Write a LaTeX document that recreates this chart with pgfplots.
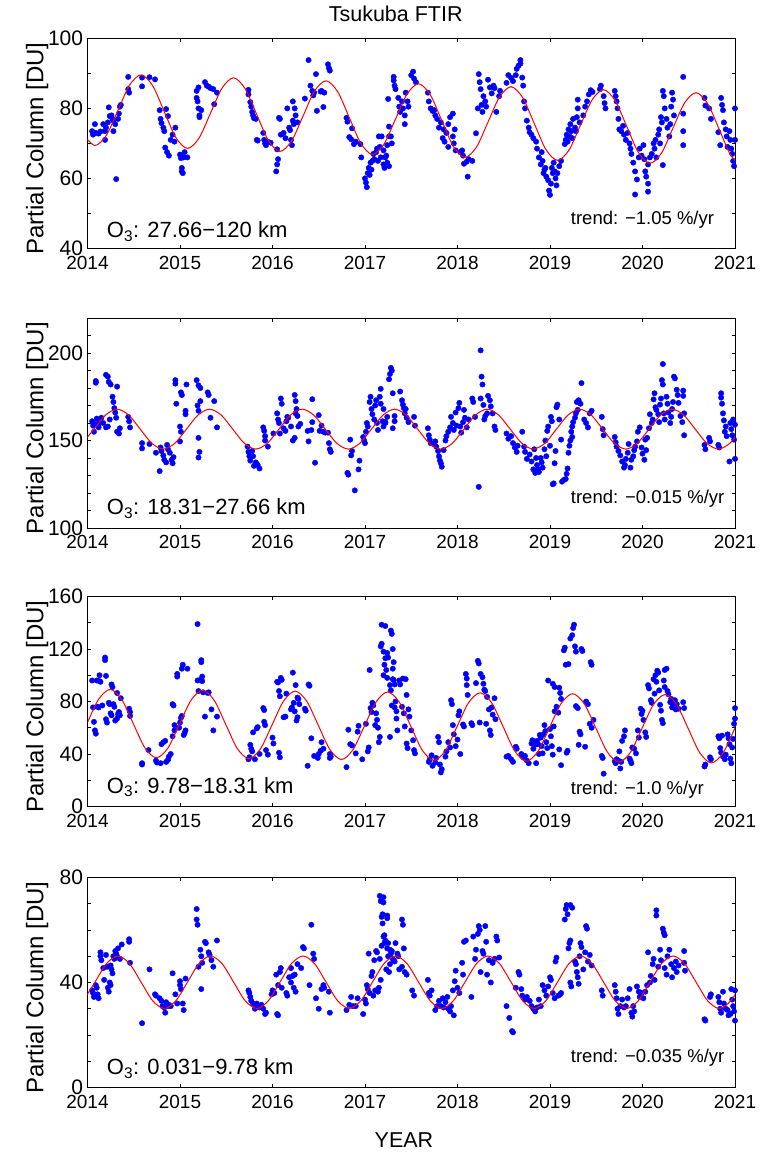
\documentclass[border=0pt]{standalone}
\usepackage{fontspec}
\setmainfont{Liberation Sans}
\usepackage{pgfplots}
\pgfplotsset{compat=1.18}
\tikzset{
 lab/.style={anchor=base west, inner sep=0pt, font=\fontsize{22}{22}\selectfont},
 trd/.style={anchor=base west, inner sep=0pt, font=\fontsize{18.5}{18.5}\selectfont},
}
\pgfplotsset{
 panel/.style={
  scale only axis, width=647.5pt, height=210pt,
  xmin=2014, xmax=2021, xtick={2014,2015,...,2021},
  /pgf/number format/1000 sep={},
  /pgf/number format/assume math mode=true,
  anchor=north west,
  clip mode=individual,
  axis line style={line width=0.9pt},
  every tick/.style={black, line width=0.8pt},
  major tick length=3.5pt, minor tick length=3.5pt,
  xticklabel style={font=\fontsize{19}{19}\selectfont, inner sep=0pt, anchor=north, yshift=-7.5pt},
  yticklabel style={font=\fontsize{21}{21}\selectfont, inner sep=0pt, anchor=east, xshift=-4.2pt},
  every axis y label/.style={at={(rel axis cs:-0.0683,0.476)}, rotate=90, anchor=base, font=\fontsize{24}{24}\selectfont, inner sep=0pt},
  ylabel={Partial Column [DU]},
 },
 dots/.style={only marks, mark=*, mark size=2.7pt, blue, mark options={draw=none, fill=blue}},
 fit/.style={no marks, red, line width=1pt, smooth},
}
\begin{document}
\begin{tikzpicture}
\path[use as bounding box] (0,0) rectangle (767pt,-1152pt);
% ---------------- Panel 1
\begin{axis}[panel, at={(87.5pt,-38.4pt)},
  ymin=40, ymax=100, ytick={40,60,80,100}, minor ytick={50,70,90},
  title={Tsukuba FTIR},
  title style={at={(rel axis cs:0.476,1.053)}, anchor=base, inner sep=0pt, font=\fontsize{21.5}{21.5}\selectfont}]
\addplot[dots] coordinates {
(2014.05,73.5)(2014.06,72.5)(2014.08,75.5)(2014.09,73)(2014.12,72.8)(2014.14,73.4)
(2014.17,75.5)(2014.19,73.5)(2014.2,74.5)(2014.22,76)(2014.19,71)(2014.23,80.3)(2014.24,77.8)(2014.26,78)(2014.27,77)(2014.28,76.5)(2014.28,73.5)(2014.3,75.5)(2014.31,59.8)(2014.33,77)(2014.34,78.5)(2014.35,80.5)(2014.36,81)
(2014.44,89)(2014.44,85.5)(2014.45,84.5)(2014.59,88.8)(2014.59,86.3)(2014.67,88.9)(2014.73,88.3)
(2014.78,79.5)(2014.79,77)(2014.8,75.8)(2014.82,74.5)(2014.83,73.5)(2014.85,79.8)(2014.87,77.8)(2014.84,68.8)(2014.86,67.5)(2014.88,66.5)(2014.9,71)(2014.92,72.5)(2014.95,74.5)(2014.94,70.5)
(2015.0,66.8)(2015.01,65.8)(2015.02,63)(2015.02,62)(2015.03,61.5)(2015.04,66)(2015.05,67.5)(2015.08,66)
(2015.18,85)(2015.18,83)(2015.19,82)(2015.2,86)(2015.2,80)(2015.21,78)(2015.21,77.5)(2015.23,79.5)
(2015.27,87.5)(2015.29,86.5)(2015.31,86.2)(2015.33,85.8)(2015.36,85.5)(2015.37,81.2)(2015.4,84.5)
(2015.74,85.3)(2015.74,84)(2015.76,81.8)(2015.77,80.5)(2015.78,79)(2015.79,78)(2015.8,77.2)(2015.82,77)
(2015.83,71)(2015.84,70.8)(2015.9,73)(2015.91,71)(2015.92,70)(2015.93,69.5)(2015.95,70.5)
(2015.98,70.2)(2016.05,68.3)(2016.06,65.5)(2016.05,64)(2016.04,62)(2016.07,77.3)(2016.08,77)
(2016.09,72.5)(2016.12,73)(2016.14,71.5)(2016.16,80)(2016.18,74.5)(2016.19,73.8)(2016.2,71)(2016.21,69.5)(2016.22,76.5)(2016.23,75.5)
(2016.22,82)(2016.24,80)(2016.25,78)(2016.27,76)(2016.39,93.8)(2016.35,82.8)
(2016.41,86.5)(2016.43,85)(2016.44,83.7)(2016.45,84.5)(2016.47,89.8)(2016.48,79.3)(2016.52,84.8)(2016.53,85)(2016.55,80.4)(2016.56,84.5)
(2016.6,92.6)(2016.61,91.5)(2016.62,90.8)
(2016.8,77.3)(2016.81,76.2)(2016.83,71.8)(2016.85,71.2)(2016.86,74.3)(2016.88,69.8)(2016.9,70.5)
(2016.95,69.8)(2016.96,66)
(2017.0,60)(2017.01,58.8)(2017.02,57.5)(2017.03,61.5)(2017.04,63)(2017.05,61)(2017.06,64.5)(2017.07,62.5)(2017.08,65)(2017.09,67)(2017.1,65.5)(2017.12,67.5)(2017.13,68.5)(2017.14,65)(2017.15,72)(2017.16,69)(2017.17,66)(2017.2,64)(2017.21,63)(2017.22,66)(2017.24,69.5)(2017.26,72)
(2017.18,72)(2017.2,68)(2017.23,66.5)(2017.24,64.5)(2017.26,63.5)(2017.25,82.7)(2017.26,74.8)(2017.28,72)(2017.29,70)
(2017.31,89)(2017.31,88)(2017.32,86.5)(2017.33,85.5)
(2017.36,83)(2017.37,80.5)(2017.38,79)(2017.4,82)(2017.41,80)(2017.43,78)(2017.43,75.5)(2017.44,84.5)(2017.46,82)(2017.47,80.5)
(2017.5,89.5)(2017.52,90.5)(2017.53,88.5)(2017.55,87.5)
(2017.68,84.5)(2017.69,82)(2017.71,80)(2017.73,79.3)(2017.75,79.5)
(2017.76,78)(2017.78,77)(2017.8,74.5)(2017.82,76)
(2017.84,71.5)(2017.85,74)(2017.86,70.5)(2017.88,73)(2017.9,69)(2017.9,75.5)(2017.92,77.5)(2017.95,78.5)(2017.95,72)(2017.96,70)(2017.97,74)(2017.98,68)
(2018.03,67.5)(2018.05,68)(2018.06,66.5)(2018.07,64.2)(2018.1,64.8)(2018.11,60.5)(2018.12,65.5)(2018.16,65)(2018.2,72.9)
(2018.22,80)(2018.23,89.8)(2018.24,87.5)(2018.25,85.5)(2018.26,81)(2018.27,79)(2018.28,83.5)(2018.3,82)(2018.31,80.5)
(2018.33,88.2)(2018.35,86)(2018.37,84.3)(2018.39,86.5)(2018.4,85.8)(2018.42,79)(2018.45,83.5)(2018.46,85)
(2018.53,87.3)(2018.55,89.5)(2018.58,88.7)(2018.6,87.8)(2018.63,89.5)(2018.64,91.3)(2018.66,92.2)(2018.68,93.8)(2018.68,92.8)(2018.7,88.8)(2018.71,86.5)
(2018.72,82)(2018.73,80)(2018.75,76.5)(2018.77,74.5)(2018.78,73.2)(2018.8,72.5)(2018.82,71.5)
(2018.85,70.5)(2018.86,68.5)(2018.88,66)(2018.9,64)(2018.91,67.5)(2018.92,65)(2018.93,61.5)(2018.94,62.5)(2018.95,63)(2018.96,60.5)(2018.98,59.5)(2018.99,56.5)(2019.0,55.3)(2019.01,58.5)(2019.02,63)(2019.03,61.5)(2019.04,64.5)(2019.05,62)(2019.06,60)(2019.07,58)(2019.08,61.5)(2019.1,63.5)(2019.12,65)
(2019.16,69.8)(2019.17,71)(2019.18,72.5)(2019.19,70.5)(2019.2,74)(2019.21,72)(2019.22,75.5)(2019.23,73.5)(2019.24,71.5)(2019.25,77)(2019.27,74.5)(2019.28,73.5)(2019.29,77.5)(2019.3,80)(2019.3,82.5)(2019.32,76)
(2019.36,78)(2019.38,80.5)(2019.4,82)(2019.42,84)(2019.44,85.2)(2019.46,84.7)
(2019.54,85.5)(2019.55,86.5)(2019.58,83.5)(2019.59,81.5)(2019.6,80)
(2019.7,85)(2019.71,83.5)(2019.72,82)(2019.73,80)(2019.74,77)(2019.75,74)(2019.77,73.5)(2019.79,75)(2019.8,72.5)(2019.82,71)(2019.84,73)(2019.86,70)
(2019.87,68.5)(2019.88,67)(2019.9,64.5)(2019.92,62)(2019.94,59.7)(2019.92,55.4)(2019.96,66)(2019.97,68.5)(2019.99,66.5)(2020.01,69.5)(2020.02,65.5)(2020.03,62)(2020.04,60.5)(2020.06,58.5)(2020.06,56.2)
(2020.06,64)(2020.08,66)(2020.1,67)(2020.12,70)(2020.13,68.5)(2020.14,71)(2020.15,66)(2020.17,72.5)(2020.18,74)(2020.19,70)(2020.22,63.8)(2020.2,77.5)(2020.21,76)(2020.22,85)(2020.23,83.5)(2020.24,80)(2020.26,77)(2020.27,74.5)(2020.29,72)(2020.3,75.5)(2020.31,80.5)(2020.32,84.5)(2020.33,82.5)(2020.34,78)
(2020.44,89)(2020.44,78.5)(2020.44,73.5)(2020.44,69.5)
(2020.67,83)(2020.68,80.8)(2020.72,80)(2020.74,77)
(2020.82,73.2)(2020.84,69.5)(2020.85,83)(2020.86,81)(2020.87,79.5)(2020.88,76)(2020.9,74)(2020.91,72)(2020.92,69)(2020.94,73.5)(2020.95,71)(2020.96,68.5)(2020.97,67)(2020.98,65)(2020.99,63.5)(2021.0,80)(2021.0,71)
};
\addplot[fit] coordinates {
(2013.955,72.54)(2014.08,69.41)(2014.205,72.33)(2014.33,79.50)(2014.455,86.67)(2014.58,89.59)(2014.705,86.46)(2014.83,79.08)
(2014.955,71.69)(2015.08,68.56)(2015.205,71.48)(2015.33,78.65)(2015.455,85.83)(2015.58,88.74)(2015.705,85.61)(2015.83,78.23)
(2015.955,70.84)(2016.08,67.71)(2016.205,70.63)(2016.33,77.80)(2016.455,84.98)(2016.58,87.89)(2016.705,84.76)(2016.83,77.38)
(2016.955,69.99)(2017.08,66.86)(2017.205,69.78)(2017.33,76.95)(2017.455,84.13)(2017.58,87.04)(2017.705,83.91)(2017.83,76.53)
(2017.955,69.14)(2018.08,66.01)(2018.205,68.93)(2018.33,76.10)(2018.455,83.28)(2018.58,86.19)(2018.705,83.06)(2018.83,75.68)
(2018.955,68.29)(2019.08,65.16)(2019.205,68.08)(2019.33,75.25)(2019.455,82.43)(2019.58,85.34)(2019.705,82.21)(2019.83,74.83)
(2019.955,67.44)(2020.08,64.31)(2020.205,67.23)(2020.33,74.40)(2020.455,81.58)(2020.58,84.49)(2020.705,81.36)(2020.83,73.98)
(2020.955,66.59)(2021.08,63.46)
};
\node[lab] at (rel axis cs:0.0297,0.052) {O\textsubscript{3}: 27.66−120 km};
\node[trd] at (rel axis cs:0.7463,0.112) {trend: −1.05 \%/yr};
\end{axis}
% ---------------- Panel 2
\begin{axis}[panel, at={(87.5pt,-318pt)},
  ymin=100, ymax=220, ytick={100,150,200}, minor ytick={110,120,130,140,160,170,180,190,210}]
\addplot[dots] coordinates {
(2014.05,161)(2014.06,158.5)(2014.07,155)(2014.08,159.5)(2014.1,162.5)(2014.12,157.5)(2014.13,160)(2014.09,184)(2014.09,183)
(2014.15,163)(2014.17,160)(2014.2,157.5)(2014.22,158)(2014.24,162)
(2014.2,187.5)(2014.22,186.5)(2014.23,183.5)(2014.25,182)
(2014.27,175)(2014.28,172)(2014.29,168.5)(2014.3,166)(2014.31,163)
(2014.32,180.8)(2014.32,155)(2014.34,154)(2014.35,157)
(2014.44,163.5)(2014.45,161)(2014.46,157.5)(2014.59,148.5)(2014.59,145.5)(2014.67,148)(2014.74,143)
(2014.78,132.5)(2014.79,146)(2014.8,144)(2014.82,141.5)(2014.83,139)(2014.85,137.5)(2014.86,147.5)(2014.87,145)(2014.89,143)(2014.91,139)(2014.92,137)(2014.93,140.5)
(2014.95,184.5)(2014.95,182.5)(2014.96,171)(2015.0,158)(2015.01,155)(2015.0,149.5)(2015.01,177.5)(2015.02,176)(2015.06,167)(2015.06,165)(2015.07,182)
(2015.18,184.5)(2015.2,181.5)(2015.22,180)(2015.19,170)(2015.2,167)(2015.2,151.5)(2015.21,143.5)(2015.2,140.3)(2015.22,172.5)
(2015.3,177.5)(2015.31,176)(2015.33,163)(2015.37,172.5)(2015.4,157.5)
(2015.73,146.5)(2015.74,143.5)(2015.75,141)(2015.76,138.5)(2015.78,144)(2015.79,141)(2015.8,135.5)(2015.82,137.5)(2015.84,136)(2015.86,134)
(2015.9,157.5)(2015.91,155.5)(2015.92,152.5)(2015.92,150)(2015.95,146.5)
(2016.01,154)(2016.05,165.5)(2016.06,162)(2016.07,160)(2016.09,174)(2016.1,171)(2016.08,154)
(2016.12,157)(2016.14,155.5)(2016.15,161)(2016.16,163.5)(2016.17,163)(2016.2,158)(2016.22,150)(2016.24,151.5)(2016.25,165.5)(2016.26,168)(2016.27,164)
(2016.24,176)(2016.25,172.5)(2016.28,158)(2016.3,159.5)
(2016.38,155.5)(2016.39,149.5)(2016.42,156)(2016.43,160.5)(2016.43,173.6)(2016.46,137.3)
(2016.5,164.5)(2016.51,155.5)(2016.53,158.5)(2016.55,155)(2016.57,154.5)(2016.6,154.5)
(2016.61,148.5)(2016.62,145)(2016.63,143.5)
(2016.81,131.5)(2016.82,130.5)(2016.84,150.5)(2016.85,141.5)(2016.86,144)(2016.89,121.5)(2016.93,133.5)(2016.94,138.5)
(2016.98,152)(2016.99,150)(2017.0,148.5)(2017.01,155)(2017.02,160)(2017.03,158)(2017.05,172)(2017.06,175)(2017.07,168)(2017.08,165)(2017.1,162)(2017.11,170)(2017.12,173)(2017.13,160)(2017.14,156)
(2017.16,175)(2017.17,179.5)(2017.19,161)(2017.2,158)(2017.22,160)(2017.24,163.5)(2017.26,185)(2017.27,188)(2017.28,191.5)(2017.29,190)(2017.3,177)(2017.32,164)
(2017.17,171)(2017.2,168)(2017.22,160.5)(2017.3,157)(2017.32,161)
(2017.38,178)(2017.4,173)(2017.41,170.5)(2017.42,168.5)(2017.43,165.5)(2017.44,168)(2017.45,163)(2017.47,160.5)
(2017.53,163.5)(2017.54,158.5)
(2017.68,157)(2017.69,153)(2017.7,150.5)(2017.71,148.5)(2017.74,148)
(2017.76,149.5)(2017.77,146.5)(2017.79,144)(2017.8,141)(2017.81,138.5)(2017.82,137)(2017.83,135)(2017.85,144.5)(2017.87,150)
(2017.88,152.5)(2017.9,155)(2017.92,157.5)(2017.93,163.5)(2017.95,160)(2017.96,156)(2017.98,166)(2017.99,158.5)(2018.01,168.5)(2018.02,171.5)(2018.03,158)(2018.04,154.5)(2018.06,160.5)(2018.07,167.5)
(2018.08,163)(2018.1,157.5)(2018.12,162)(2018.16,174)(2018.17,172)(2018.19,163.5)(2018.23,123.5)
(2018.25,201.5)(2018.26,186.5)(2018.27,182)(2018.25,174)(2018.28,170.3)
(2018.29,162)(2018.3,164)(2018.32,165.5)(2018.33,175.5)(2018.35,173)(2018.36,169.5)(2018.38,165.5)(2018.4,158)(2018.41,156)
(2018.53,154)(2018.55,151)(2018.58,152.5)(2018.6,148.5)(2018.62,146)(2018.64,143.5)(2018.65,147)
(2018.7,155)(2018.72,146.5)(2018.73,143.5)(2018.75,139.5)(2018.78,142)(2018.8,138)(2018.82,133.5)(2018.83,145)(2018.84,131.5)(2018.85,140)
(2018.86,136)(2018.87,133.5)(2018.88,132)(2018.9,140)(2018.91,137.5)(2018.92,134.5)(2018.94,145)(2018.95,150)(2018.96,141)(2018.97,155.5)(2018.98,158)(2019.0,147)(2019.01,163.5)(2019.02,161)(2019.03,125)(2019.04,125.5)(2019.05,137)(2019.06,144)(2019.07,169)(2019.08,170.5)(2019.1,162)(2019.12,150.5)
(2019.13,126.5)(2019.15,127.5)(2019.17,128)(2019.18,131)(2019.19,134)(2019.2,143)(2019.21,147)(2019.22,150)(2019.23,155)(2019.24,152)
(2019.24,158)(2019.25,160.5)(2019.27,163)(2019.28,165.5)(2019.29,172)(2019.3,167.5)(2019.31,173)(2019.33,171)(2019.34,182.8)
(2019.37,162)(2019.39,160)(2019.41,157.5)(2019.43,165.5)(2019.45,167)
(2019.56,163.5)(2019.57,156.5)(2019.58,153)
(2019.7,152)(2019.71,149)(2019.72,146.5)(2019.74,144)(2019.76,141.5)(2019.78,138)(2019.8,134.5)(2019.81,136)(2019.82,139.5)(2019.84,143)(2019.85,148)
(2019.87,134.5)(2019.88,139)(2019.9,141)(2019.91,144.5)(2019.92,146.5)(2019.94,149.5)(2019.95,155)(2019.97,157.5)(2019.99,146)(2020.0,142.5)(2020.02,139)(2020.03,150.5)(2020.04,144.5)
(2020.05,151.5)(2020.07,157)(2020.08,165)(2020.1,160)(2020.11,162)(2020.12,173.5)(2020.13,177)(2020.14,169)(2020.15,167.5)(2020.17,165)(2020.18,160.5)(2020.19,170.5)(2020.2,174)(2020.21,184.5)(2020.22,182)(2020.22,193.7)
(2020.23,165.5)(2020.24,162)(2020.26,175)(2020.27,171)(2020.28,166)(2020.3,160)(2020.31,163.5)(2020.32,168)(2020.33,172)(2020.34,186.5)(2020.35,185.5)(2020.37,179)(2020.38,176)(2020.39,171.5)(2020.41,164)(2020.43,160.5)
(2020.44,178.5)(2020.44,175.5)(2020.45,165.5)(2020.45,153)
(2020.67,147.5)(2020.68,145)(2020.72,151.5)(2020.73,149.5)
(2020.82,147.5)(2020.83,146)(2020.85,177)(2020.85,174.5)(2020.86,171)(2020.87,165.5)(2020.88,161.5)(2020.89,155)(2020.9,158)(2020.91,152.5)(2020.94,138)(2020.95,160)(2020.96,156.5)(2020.97,153)(2020.98,162)(2020.99,150.5)(2021.0,159)(2021.0,139.5)
};
\addplot[fit] coordinates {
(2013.945,148.44)(2014.07,156.5)(2014.195,164.56)(2014.32,167.9)(2014.445,164.56)(2014.57,156.5)(2014.695,148.44)(2014.82,145.1)
(2014.945,148.44)(2015.07,156.5)(2015.195,164.56)(2015.32,167.9)(2015.445,164.56)(2015.57,156.5)(2015.695,148.44)(2015.82,145.1)
(2015.945,148.44)(2016.07,156.5)(2016.195,164.56)(2016.32,167.9)(2016.445,164.56)(2016.57,156.5)(2016.695,148.44)(2016.82,145.1)
(2016.945,148.44)(2017.07,156.5)(2017.195,164.56)(2017.32,167.9)(2017.445,164.56)(2017.57,156.5)(2017.695,148.44)(2017.82,145.1)
(2017.945,148.44)(2018.07,156.5)(2018.195,164.56)(2018.32,167.9)(2018.445,164.56)(2018.57,156.5)(2018.695,148.44)(2018.82,145.1)
(2018.945,148.44)(2019.07,156.5)(2019.195,164.56)(2019.32,167.9)(2019.445,164.56)(2019.57,156.5)(2019.695,148.44)(2019.82,145.1)
(2019.945,148.44)(2020.07,156.5)(2020.195,164.56)(2020.32,167.9)(2020.445,164.56)(2020.57,156.5)(2020.695,148.44)(2020.82,145.1)
(2020.945,148.44)(2021.07,156.5)
};
\node[lab] at (rel axis cs:0.0297,0.064) {O\textsubscript{3}: 18.31−27.66 km};
\node[trd] at (rel axis cs:0.7463,0.116) {trend: −0.015 \%/yr};
\end{axis}
% ---------------- Panel 3
\begin{axis}[panel, at={(87.5pt,-596.5pt)},
  ymin=0, ymax=160, ytick={0,40,80,120,160}, minor ytick={20,60,100,140}]
\addplot[dots] coordinates {
(2014.05,96)(2014.06,75.5)(2014.07,64.5)(2014.08,58)(2014.09,55.5)(2014.1,96)(2014.11,76)(2014.12,75.5)(2014.13,95.5)(2014.13,100)(2014.14,95)
(2014.19,113.5)(2014.19,111.5)(2014.2,99.5)
(2014.16,77)(2014.2,66.5)(2014.21,64)(2014.23,79)(2014.24,78)(2014.25,71)(2014.26,69.5)
(2014.26,93)(2014.27,91)
(2014.28,78)(2014.29,76)(2014.3,65.5)(2014.32,67)(2014.33,70.5)(2014.34,72)(2014.35,69.5)(2014.32,86.5)(2014.36,82.5)
(2014.45,74.5)(2014.46,72)(2014.46,69)(2014.59,33)(2014.59,32)(2014.66,43)(2014.74,35)(2014.75,33.5)
(2014.79,33)(2014.8,47.5)(2014.82,49)(2014.84,50)(2014.85,34)(2014.87,35.5)(2014.88,38)(2014.9,40)(2014.92,53.5)(2014.94,58)
(2014.92,78)(2014.93,77)
(2014.94,62)(2014.97,101)(2014.97,99)(2014.99,60)(2015.0,64)(2015.01,67.5)(2015.02,69)(2015.02,105)(2015.03,108)(2015.04,54.5)(2015.05,56)(2015.06,58)(2015.08,105)
(2015.19,139)(2015.19,96)(2015.2,88)(2015.22,96.5)(2015.23,111.5)(2015.23,110)(2015.24,99)(2015.24,95.5)(2015.25,87)
(2015.27,68.5)(2015.3,86.5)(2015.31,87)(2015.34,74)(2015.36,58)(2015.4,68.5)
(2015.74,36)(2015.75,37.5)(2015.76,47)(2015.77,44)(2015.78,42)(2015.79,56.5)
(2015.81,36)(2015.83,59.5)(2015.84,60.5)(2015.86,40)
(2015.9,75)(2015.91,73.5)(2015.91,64.5)(2015.92,62)(2015.93,43)(2015.95,39.5)
(2016.0,52.5)(2016.01,48)
(2016.05,95)(2016.06,94.5)(2016.07,88)(2016.08,84)(2016.09,98)(2016.1,96.5)(2016.07,41)(2016.08,37.5)(2016.12,68)(2016.14,68.5)
(2016.15,86)(2016.2,74)(2016.21,75.5)(2016.22,102)(2016.23,79)(2016.24,72.5)(2016.25,92.5)(2016.26,65.5)(2016.27,68)(2016.27,83)(2016.28,82)(2016.29,78)
(2016.35,74.5)(2016.36,73)(2016.39,93)(2016.4,92)(2016.42,52)(2016.45,38.5)(2016.38,31)
(2016.49,37)(2016.5,40)(2016.52,42.5)(2016.53,49)(2016.55,44)(2016.62,40)(2016.63,38)(2016.62,37)
(2016.8,30)(2016.82,58.5)(2016.84,47.5)(2016.86,46.5)(2016.9,40.5)(2016.92,57)(2016.93,61.5)
(2016.97,36)(2017.01,63)(2017.03,42)(2017.04,45)(2017.05,104)(2017.06,75)(2017.07,72)(2017.08,79)(2017.09,77)(2017.11,62)(2017.12,71)(2017.13,66)
(2017.14,60)(2017.15,49)(2017.16,53)(2017.17,122)(2017.18,124)(2017.2,100)(2017.21,108)(2017.22,137.5)(2017.24,117)(2017.25,113.5)(2017.27,53)(2017.28,134)(2017.29,131.5)(2017.3,120)(2017.3,105)(2017.31,110)
(2017.18,138.5)(2017.2,118)(2017.22,113)(2017.23,104)(2017.24,98)(2017.27,92.5)(2017.28,88.5)(2017.29,77)(2017.31,96.5)(2017.32,93)(2017.34,72.5)
(2017.3,97)(2017.32,75.5)(2017.33,80)
(2017.34,67)(2017.35,58)(2017.37,96)(2017.38,93)(2017.4,76)(2017.42,71)(2017.43,61)(2017.45,48)(2017.46,44.5)(2017.41,97.5)(2017.44,97)
(2017.45,85)(2017.47,74)(2017.48,68.5)(2017.5,58)(2017.52,50.5)(2017.53,43)(2017.54,40.5)
(2017.69,34)(2017.7,36)(2017.72,39)(2017.73,31)
(2017.76,33.5)(2017.77,37)(2017.79,53)(2017.8,49)(2017.81,32)(2017.82,26)(2017.83,28.5)
(2017.87,38)(2017.88,42)(2017.9,49)(2017.92,45)(2017.93,81)(2017.94,78)(2017.95,62)(2017.96,55)(2017.98,46)(2018.0,51)(2018.01,69.5)(2018.02,72.5)(2018.03,40)
(2018.06,62.5)(2018.07,61)(2018.09,101)(2018.1,97.5)(2018.1,92.5)(2018.11,85)
(2018.15,63.5)(2018.16,62)(2018.2,94)(2018.22,111)(2018.23,109)(2018.24,64)(2018.25,101)(2018.27,98.5)(2018.28,93.5)(2018.29,89)(2018.3,88)(2018.31,63)
(2018.32,83.5)(2018.34,74)(2018.35,58)(2018.36,54.5)(2018.37,75.5)(2018.38,70)(2018.4,82.5)(2018.41,66.5)
(2018.53,38)(2018.55,38.5)(2018.58,36)(2018.6,34)(2018.63,45.5)(2018.64,44)
(2018.69,40)(2018.71,37.5)(2018.73,38.5)(2018.75,35)(2018.77,33)(2018.8,48)(2018.81,50.5)(2018.82,44)(2018.84,47)(2018.85,33)
(2018.86,50)(2018.87,47.5)(2018.88,40)(2018.89,54.5)(2018.9,52.5)(2018.91,46)(2018.92,40.5)(2018.93,55)(2018.94,62)(2018.95,57.5)(2018.96,49)(2018.97,44.5)(2018.98,96)(2019.0,59)(2019.01,53.5)(2019.02,46)(2019.03,39.5)(2019.04,61)(2019.05,72.5)(2019.07,76)(2019.09,71.5)(2019.1,43.5)(2019.12,31.5)
(2019.03,93.5)(2019.05,91)
(2019.1,90.5)(2019.11,86.5)(2019.12,82)(2019.15,119)(2019.16,121)(2019.17,108)(2019.18,41)(2019.19,42.5)(2019.2,108.5)(2019.22,128)(2019.24,130.5)(2019.25,136)(2019.26,138.5)(2019.27,122)(2019.28,118)
(2019.28,76.5)(2019.3,75)(2019.31,47)(2019.32,57)(2019.33,55)
(2019.34,120)(2019.35,118.5)(2019.38,45.5)(2019.39,80)(2019.41,78)(2019.43,63)(2019.45,60)(2019.44,110)(2019.45,108)(2019.47,66)
(2019.56,38.5)(2019.57,37)(2019.58,25)
(2019.7,34.5)(2019.71,33)(2019.72,36)(2019.74,35)(2019.75,42)(2019.76,29)(2019.77,34)(2019.78,50)(2019.8,53.5)(2019.81,58)
(2019.86,36.5)(2019.87,35)(2019.88,33)(2019.89,45)(2019.91,44)(2019.93,40.5)(2019.95,58)(2019.96,52.5)(2019.98,74.5)(2019.99,70.5)(2020.0,73)(2020.01,66)(2020.03,56.5)(2020.04,53)
(2020.06,92.5)(2020.07,90)(2020.09,81)(2020.1,79)(2020.12,97)(2020.13,86)(2020.14,100)(2020.15,95)(2020.16,103.5)(2020.17,102)(2020.18,88.5)(2020.19,77.5)(2020.2,73)(2020.21,66)(2020.22,63.5)(2020.23,96)(2020.24,91)
(2020.24,104)(2020.26,105)(2020.27,88)(2020.28,85.5)(2020.3,79.5)(2020.31,82)(2020.32,75.5)(2020.33,78.5)(2020.35,81)(2020.36,74)(2020.37,78)(2020.39,74.5)(2020.44,79.5)(2020.45,75)
(2020.67,30.5)(2020.68,32)(2020.73,37.5)(2020.74,36)
(2020.82,53.5)(2020.83,52)(2020.84,44.5)(2020.85,41)(2020.86,54)(2020.87,38)(2020.89,36)(2020.9,39.5)(2020.92,55)(2020.93,52)(2020.94,47.5)(2020.95,36.5)(2020.96,33)(2020.97,45)(2020.98,51.5)(2020.99,63)(2021.0,67)(2021.0,75)
};
\addplot[fit] coordinates {
(2013.87,45.25)(2013.995,63.48)(2014.12,81.71)(2014.245,89.22)(2014.37,81.54)(2014.495,63.15)(2014.62,44.76)(2014.745,37.09)
(2014.87,44.60)(2014.995,62.83)(2015.12,81.06)(2015.245,88.57)(2015.37,80.90)(2015.495,62.50)(2015.62,44.11)(2015.745,36.44)
(2015.87,43.95)(2015.995,62.18)(2016.12,80.41)(2016.245,87.92)(2016.37,80.25)(2016.495,61.86)(2016.62,43.46)(2016.745,35.79)
(2016.87,43.30)(2016.995,61.53)(2017.12,79.76)(2017.245,87.27)(2017.37,79.60)(2017.495,61.21)(2017.62,42.81)(2017.745,35.14)
(2017.87,42.65)(2017.995,60.88)(2018.12,79.11)(2018.245,86.62)(2018.37,78.95)(2018.495,60.56)(2018.62,42.16)(2018.745,34.49)
(2018.87,42.00)(2018.995,60.23)(2019.12,78.46)(2019.245,85.97)(2019.37,78.30)(2019.495,59.91)(2019.62,41.51)(2019.745,33.84)
(2019.87,41.35)(2019.995,59.58)(2020.12,77.81)(2020.245,85.32)(2020.37,77.65)(2020.495,59.26)(2020.62,40.86)(2020.745,33.19)
(2020.87,40.70)(2020.995,58.93)(2021.12,77.16)
};
\node[lab] at (rel axis cs:0.0297,0.064) {O\textsubscript{3}: 9.78−18.31 km};
\node[trd] at (rel axis cs:0.7463,0.059) {trend: −1.0 \%/yr};
\end{axis}
% ---------------- Panel 4
\begin{axis}[panel, at={(87.5pt,-877.5pt)},
  ymin=0, ymax=80, ytick={0,40,80}, minor ytick={10,20,30,50,60,70},
  xlabel={YEAR},
  xlabel style={at={(rel axis cs:0.4888,-0.2838)}, anchor=base, inner sep=0pt, font=\fontsize{21.5}{21.5}\selectfont}]
\addplot[dots] coordinates {
(2014.05,37)(2014.06,36)(2014.07,34.5)(2014.09,39)(2014.1,38)(2014.11,35.5)(2014.12,34)
(2014.14,51.5)(2014.14,50)(2014.15,48.5)(2014.17,45.5)(2014.18,41)(2014.2,50.5)(2014.21,46)(2014.22,38)(2014.23,36.5)(2014.24,40)(2014.25,39)
(2014.25,46.5)(2014.26,45)(2014.27,43.5)(2014.28,50)(2014.29,49)(2014.3,52)(2014.31,51)(2014.32,50)(2014.33,53)(2014.35,49)(2014.37,54.5)
(2014.45,56.5)(2014.45,55.5)(2014.46,47.5)(2014.59,24.5)(2014.67,45)
(2014.73,35.5)(2014.74,35)(2014.78,34)(2014.8,33)(2014.81,31)(2014.83,30.5)(2014.84,28.5)(2014.85,32.5)(2014.87,31)(2014.88,31.5)(2014.9,31)(2014.92,43.5)
(2014.95,35.5)(2014.97,32)(2015.0,40.5)(2015.0,39)(2015.01,37.5)(2015.03,32)(2015.04,29.5)(2015.06,41.5)
(2015.18,68)(2015.18,64)(2015.19,62)(2015.2,46)(2015.22,52.5)(2015.23,50)(2015.23,37.5)(2015.24,47.5)
(2015.27,55.5)(2015.28,55)(2015.31,51.5)(2015.32,50.5)(2015.34,48.5)(2015.36,46)(2015.4,56)
(2015.74,37)(2015.75,36)(2015.76,34.5)(2015.77,33)(2015.79,32)
(2015.81,30)(2015.83,32)(2015.84,31)(2015.86,30.5)(2015.88,31.5)(2015.9,30)(2015.92,28)(2015.93,28.5)
(2015.99,35.5)(2016.0,37)(2016.02,36)(2016.04,43)(2016.05,28)(2016.06,27.5)(2016.06,39)(2016.08,44)(2016.09,45.5)(2016.1,38)
(2016.15,36)(2016.16,35)(2016.18,42)(2016.2,40)(2016.2,45.5)(2016.22,42.5)(2016.23,38)(2016.24,43)(2016.25,36.5)(2016.27,47)
(2016.31,45.5)(2016.33,53.5)(2016.34,53)(2016.4,39)(2016.42,62)
(2016.44,51)(2016.45,49)(2016.47,34)(2016.5,30)(2016.53,37.5)(2016.55,39)(2016.56,38)(2016.61,36.5)(2016.62,28.5)
(2016.8,29.5)(2016.83,31.5)(2016.85,34.5)(2016.87,31)(2016.9,31)(2016.92,34)
(2016.98,28)(2017.0,33.5)(2017.01,32)(2017.02,39)(2017.03,37.5)(2017.04,51)(2017.05,36)(2017.07,42.5)(2017.08,44)(2017.09,35)(2017.1,48.5)(2017.11,37)(2017.12,52)(2017.13,51.5)(2017.14,36.5)(2017.15,38)(2017.16,49)
(2017.17,41)(2017.18,54)(2017.19,66)(2017.2,72.5)(2017.2,70.5)(2017.21,58)(2017.22,56)(2017.24,65.5)(2017.25,55)(2017.26,44)(2017.27,52.5)(2017.28,51)(2017.3,49)(2017.32,48)
(2017.16,73)(2017.17,71)(2017.18,65)(2017.19,62.5)(2017.2,57.5)(2017.21,55)(2017.23,45)(2017.24,64.5)
(2017.24,53)(2017.25,50)(2017.27,47)(2017.29,52)(2017.31,48.5)(2017.33,55)(2017.35,51)(2017.36,50)(2017.37,45)(2017.4,46)(2017.42,53)(2017.43,44)(2017.45,43)
(2017.4,64)(2017.41,62)(2017.51,37)(2017.53,35)
(2017.68,41)(2017.69,36)(2017.7,35)(2017.72,37)
(2017.76,29.5)(2017.78,31)(2017.8,33)(2017.82,31)(2017.84,34)(2017.85,30.5)(2017.87,32.5)(2017.89,34.5)(2017.9,30)(2017.92,29)(2017.93,31)(2017.95,37)(2017.96,27.5)
(2017.97,40.5)(2017.98,44.5)(2018.0,38)(2018.02,36)(2018.05,47.5)(2018.06,43)(2018.07,55.5)(2018.09,56)
(2018.15,34.5)(2018.17,57.5)(2018.19,49)(2018.2,52.5)(2018.22,58.5)(2018.23,61.5)(2018.24,60)(2018.25,44)(2018.27,52)(2018.28,51)
(2018.3,61.5)(2018.31,55.5)(2018.32,43)(2018.34,48.5)(2018.36,40)(2018.38,47.5)(2018.4,49)(2018.42,57.5)(2018.43,56)(2018.45,49.5)
(2018.53,31)(2018.56,26.5)(2018.59,21.5)(2018.6,21)(2018.63,38)(2018.66,44)(2018.67,43)(2018.69,37.5)(2018.7,35)
(2018.73,33.5)(2018.75,34.5)(2018.78,33)(2018.8,31)(2018.82,30)(2018.84,29)(2018.86,30.5)(2018.88,33.5)(2018.9,31)(2018.92,39)(2018.94,37)(2018.96,35)(2018.98,38.5)(2019.0,42)(2019.01,41)(2019.03,36)(2019.05,34)(2019.06,48)(2019.07,49.5)(2019.09,35)(2019.11,35.5)(2019.12,36)
(2019.16,64)(2019.17,68)(2019.18,69.5)(2019.19,66)(2019.2,53)(2019.21,55)(2019.22,56)(2019.22,40)(2019.23,38.5)
(2019.22,69.5)(2019.24,68.5)(2019.27,48)(2019.28,47)(2019.29,44)(2019.3,42)(2019.31,39.5)(2019.32,50)
(2019.33,55)(2019.34,53.5)(2019.36,45)(2019.38,51.5)(2019.39,61.5)(2019.4,60.5)(2019.41,48)(2019.43,50.5)(2019.45,46.5)
(2019.56,37)(2019.57,35)
(2019.7,39)(2019.71,36.5)(2019.72,34)(2019.73,30)(2019.74,28)(2019.76,31)(2019.78,33.5)(2019.8,30.5)(2019.82,31)(2019.84,34)(2019.86,37.5)(2019.88,28.5)(2019.89,27)(2019.9,31)(2019.91,29)(2019.94,38.5)(2019.96,36.5)
(2019.97,34.5)(2019.99,36)(2020.01,34)(2020.03,36.5)(2020.05,39)(2020.06,51.5)(2020.08,40)(2020.09,42.5)(2020.11,47)(2020.12,49)(2020.13,41)(2020.15,67.5)(2020.15,65.5)(2020.17,46)(2020.19,52.5)(2020.2,48.5)(2020.22,60.5)(2020.23,59)(2020.24,58)
(2020.24,45.5)(2020.26,43)(2020.27,50)(2020.29,52.5)(2020.31,47)(2020.32,42)(2020.34,45.5)(2020.36,48)(2020.37,44)(2020.39,46.5)(2020.45,52)(2020.45,47.5)(2020.46,44.5)
(2020.67,26)(2020.68,25.5)(2020.73,34.5)(2020.74,35.5)
(2020.82,34.5)(2020.83,32.5)(2020.84,30)(2020.85,28.5)(2020.87,36.5)(2020.88,32)(2020.9,30)(2020.92,29.5)(2020.93,27.5)(2020.95,28)(2020.96,37.5)(2020.97,33.5)(2020.98,31)(2020.99,29)(2021.0,25.5)(2021.0,37)
};
\addplot[fit] coordinates {
(2013.955,33.03)(2014.08,40.1)(2014.205,47.17)(2014.33,50.1)(2014.455,47.17)(2014.58,40.1)(2014.705,33.03)(2014.83,30.1)
(2014.955,33.03)(2015.08,40.1)(2015.205,47.17)(2015.33,50.1)(2015.455,47.17)(2015.58,40.1)(2015.705,33.03)(2015.83,30.1)
(2015.955,33.03)(2016.08,40.1)(2016.205,47.17)(2016.33,50.1)(2016.455,47.17)(2016.58,40.1)(2016.705,33.03)(2016.83,30.1)
(2016.955,33.03)(2017.08,40.1)(2017.205,47.17)(2017.33,50.1)(2017.455,47.17)(2017.58,40.1)(2017.705,33.03)(2017.83,30.1)
(2017.955,33.03)(2018.08,40.1)(2018.205,47.17)(2018.33,50.1)(2018.455,47.17)(2018.58,40.1)(2018.705,33.03)(2018.83,30.1)
(2018.955,33.03)(2019.08,40.1)(2019.205,47.17)(2019.33,50.1)(2019.455,47.17)(2019.58,40.1)(2019.705,33.03)(2019.83,30.1)
(2019.955,33.03)(2020.08,40.1)(2020.205,47.17)(2020.33,50.1)(2020.455,47.17)(2020.58,40.1)(2020.705,33.03)(2020.83,30.1)
(2020.955,33.03)(2021.08,40.1)
};
\node[lab] at (rel axis cs:0.0297,0.060) {O\textsubscript{3}: 0.031−9.78 km};
\node[trd] at (rel axis cs:0.7463,0.121) {trend: −0.035 \%/yr};
\end{axis}
\end{tikzpicture}
\end{document}
